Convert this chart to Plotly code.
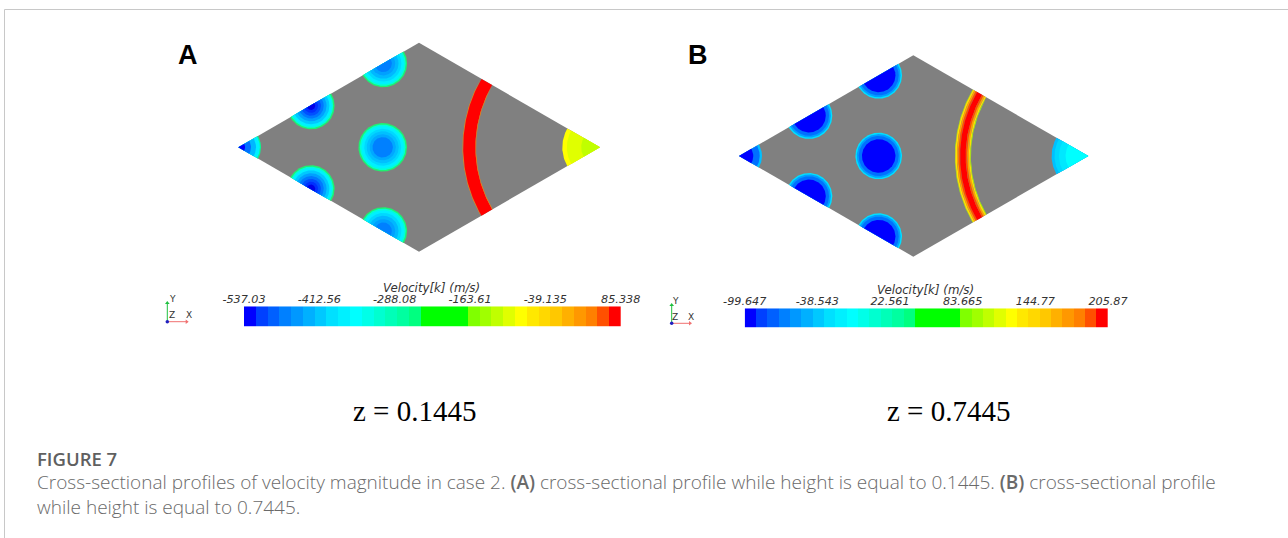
import numpy as np
import plotly.graph_objects as go

W, H = 1288, 538
GRAY = "#808080"

# rhombus corners: left, top, right, bottom
rhomb_a_x = [238.3, 419.0, 600.0, 419.0]
rhomb_a_y = [147.3, 42.7, 147.3, 251.7]
rhomb_b_x = [739.0, 913.3, 1088.3, 913.3]
rhomb_b_y = [156.0, 55.3, 156.0, 256.7]

GREEN_EDGE = "#20f070"
# (radius fraction, colour) from outside to inside
a_centre_bands = [(1.0, GREEN_EDGE), (0.94, "#00ffd8"), (0.87, "#00f0ff"), (0.76, "#00d8ff"),
                  (0.66, "#00c0ff"), (0.54, "#00a8ff"), (0.42, "#0080ff")]
a_mid_bands = [(1.0, GREEN_EDGE), (0.94, "#00ffd8"), (0.88, "#00f0ff"), (0.78, "#00c8ff"),
               (0.66, "#00a0ff"), (0.54, "#0078ff"), (0.42, "#0050ff"), (0.30, "#0030ff"), (0.18, "#0000e8")]
a_top_bands = [(1.0, GREEN_EDGE), (0.94, "#00ffd8"), (0.87, "#00f0ff"), (0.76, "#00d8ff"),
               (0.64, "#00b8ff"), (0.50, "#00a0ff"), (0.36, "#0080ff")]
a_left_bands = [(1.0, "#00ff90"), (0.95, "#00f0ff"), (0.78, "#00b8ff"), (0.56, "#0070ff"), (0.30, "#0000ff")]
a_right_bands = [(1.0, "#ffff00"), (0.88, "#e0ff00"), (0.50, "#c0ff00")]
a_ring_radii = [137.5, 136.8, 124.6, 124.0]
a_ring_colors = ["#ff8000", "#ff0000", "#ff8000"]

b_circle_bands = [(1.0, "#00e0ff"), (0.94, "#00a0ff"), (0.86, "#0070ff"), (0.72, "#0000ff")]
b_left_bands = [(1.0, "#00c0ff"), (0.90, "#0070ff"), (0.62, "#0000ff")]
b_right_bands = [(1.0, "#00c0ff"), (0.92, "#00d8ff"), (0.80, "#00e8ff"), (0.62, "#00ffff")]
b_ring_radii = [133.5, 133.0, 131.4, 129.8, 128.2, 122.6, 121.0, 119.4, 118.0, 117.4]
b_ring_colors = ["#a0ff00", "#ffe000", "#ffa000", "#ff5000", "#ff0000", "#ff5000", "#ffa000",
                 "#ffe000", "#a0ff00"]

# circles: centre x, centre y, radius, bands
a_circles = [
    (382.7, 147.3, 24.3, a_centre_bands),
    (311.0, 105.8, 23.6, a_mid_bands),
    (311.0, 188.8, 23.6, a_mid_bands),
    (383.3, 63.5, 23.8, a_top_bands),
    (383.3, 231.0, 23.8, a_top_bands),
    (238.3, 147.3, 22.7, a_left_bands),
]
b_circles = [
    (878.7, 156.0, 23.3, b_circle_bands),
    (809.0, 115.7, 23.3, b_circle_bands),
    (809.0, 196.3, 23.3, b_circle_bands),
    (878.7, 75.4, 23.3, b_circle_bands),
    (878.7, 236.6, 23.3, b_circle_bands),
    (739.0, 156.0, 23.0, b_left_bands),
]

# colour bar cells
bar_colors = ["#0000ff", "#0040ff", "#0060ff", "#0080ff", "#0098ff", "#00b0ff", "#00c8ff", "#00e0ff",
              "#00f0ff", "#00ffff", "#00ffe8", "#00ffd0", "#00ffb8", "#00ffa0", "#00ff80",
              "#00ff00", "#00ff00", "#00ff00", "#00ff00", "#80ff00", "#a0ff00", "#c0ff00", "#e0ff00",
              "#ffff00", "#ffe800", "#ffd800", "#ffc800", "#ffb000", "#ff9800", "#ff8000", "#ff5000", "#ff0000"]
ticks_a = [-537.03, -412.56, -288.08, -163.61, -39.135, 85.338]
ticks_b = [-99.647, -38.543, 22.561, 83.665, 144.77, 205.87]
tick_text_a = ["-537.03", "-412.56", "-288.08", "-163.61", "-39.135", "85.338"]
tick_text_b = ["-99.647", "-38.543", "22.561", "83.665", "144.77", "205.87"]
bar_title = "Velocity[k] (m/s)"

caption_head = "FIGURE 7"
SEMI = '<span style="font-weight:600">%s</span>'
caption_1 = ("Cross-sectional profiles of velocity magnitude in case 2. " + SEMI % "(A)" + " cross-sectional profile "
             "while height is equal to 0.1445. " + SEMI % "(B)" + " cross-sectional profile")
caption_2 = "while height is equal to 0.7445."
z_a, z_b = "z = 0.1445", "z = 0.7445"


def clip_convex(px, py, cx, cy):
    """Sutherland-Hodgman clip of polygon (px,py) to a convex polygon."""
    mx, my = np.mean(cx), np.mean(cy)
    pts = list(zip(px, py))
    n = len(cx)
    for i in range(n):
        ax, ay, bx, by = cx[i], cy[i], cx[(i + 1) % n], cy[(i + 1) % n]
        side = lambda p: (bx - ax) * (p[1] - ay) - (by - ay) * (p[0] - ax)
        sign = 1 if side((mx, my)) > 0 else -1
        out = []
        for j in range(len(pts)):
            p, q = pts[j], pts[(j + 1) % len(pts)]
            sp, sq = sign * side(p), sign * side(q)
            if sp >= 0:
                out.append(p)
            if sp * sq < 0:
                t = sp / (sp - sq)
                out.append((p[0] + t * (q[0] - p[0]), p[1] + t * (q[1] - p[1])))
        pts = out
        if not pts:
            return [], []
    return [p[0] for p in pts], [p[1] for p in pts]


fig = go.Figure()


def poly(x, y, color):
    fig.add_trace(go.Scatter(x=list(x) + list(x[:1]), y=list(y) + list(y[:1]), mode="lines",
                             fill="toself", fillcolor=color, line=dict(width=0),
                             hoverinfo="skip", showlegend=False))


def disc(cx, cy, r, color, rx, ry):
    t = np.linspace(0, 2 * np.pi, 240, endpoint=False)
    x, y = clip_convex(cx + r * np.cos(t), cy + r * np.sin(t), rx, ry)
    if x:
        poly(x, y, color)


def ring(rx, ry, radii, colors):
    """Arc bands centred on the right corner, limited to the corner's two edges."""
    half = np.arctan2(ry[3] - ry[2], rx[2] - rx[3])
    t = np.linspace(-half, half, 120)
    for i, c in enumerate(colors):
        ro, ri = radii[i], radii[i + 1]
        x = np.concatenate([rx[2] - ro * np.cos(t), (rx[2] - ri * np.cos(t))[::-1]])
        y = np.concatenate([ry[2] + ro * np.sin(t), (ry[2] + ri * np.sin(t))[::-1]])
        poly(x, y, c)


def panel(rx, ry, circles, ring_r, ring_c, right_bands, right_r):
    poly(rx, ry, GRAY)
    ring(rx, ry, ring_r, ring_c)
    for cx, cy, r, bands in circles:
        for f, c in bands:
            disc(cx, cy, r * f, c, rx, ry)
    for f, c in right_bands:
        disc(rx[2], ry[2], right_r * f, c, rx, ry)


panel(rhomb_a_x, rhomb_a_y, a_circles, a_ring_radii, a_ring_colors, a_right_bands, 37.7)
panel(rhomb_b_x, rhomb_b_y, b_circles, b_ring_radii, b_ring_colors, b_right_bands, 36.7)


# colour bars on their own axes
def colorbar(ticks, xa, ya):
    lo, hi = ticks[0], ticks[-1]
    n = len(bar_colors)
    edges = np.linspace(lo, hi, n + 1)
    cs = []
    for i, c in enumerate(bar_colors):
        cs += [[i / n, c], [(i + 1) / n, c]]
    fig.add_trace(go.Heatmap(x=edges, y=[0, 1], z=[list(range(n))], zmin=-0.5, zmax=n - 0.5,
                             colorscale=cs, showscale=False, hoverinfo="skip", xaxis=xa, yaxis=ya))


colorbar(ticks_a, "x2", "y2")
colorbar(ticks_b, "x3", "y3")


def ybar(t, b):
    return dict(domain=[1 - b / H, 1 - t / H], range=[0, 1], visible=False)


def xbar(l, r, ticks, labels, anchor):
    return dict(domain=[l / W, r / W], range=[ticks[0], ticks[-1]], side="top", anchor=anchor,
                tickvals=ticks, ticktext=[f"<i>{s}</i>" for s in labels], ticks="", ticklen=0,
                showgrid=False, zeroline=False, showline=False,
                tickfont=dict(family="DejaVu Sans", size=11.2, color="#333333"))


# triads: origin-to-tip segments
def triad(ox, oy, ytip, xtip):
    fig.add_trace(go.Scatter(x=[ox, ox], y=[oy, ytip], mode="lines", line=dict(color="#20c040", width=1),
                             hoverinfo="skip", showlegend=False))
    fig.add_trace(go.Scatter(x=[ox, xtip], y=[oy, oy], mode="lines", line=dict(color="#f07070", width=1),
                             hoverinfo="skip", showlegend=False))
    fig.add_trace(go.Scatter(x=[ox], y=[ytip], mode="markers",
                             marker=dict(symbol="triangle-up", size=4, color="#20c040"),
                             hoverinfo="skip", showlegend=False))
    fig.add_trace(go.Scatter(x=[xtip], y=[oy], mode="markers",
                             marker=dict(symbol="triangle-right", size=4, color="#f07070"),
                             hoverinfo="skip", showlegend=False))
    fig.add_trace(go.Scatter(x=[ox], y=[oy], mode="markers", marker=dict(size=3.5, color="#2020c0"),
                             hoverinfo="skip", showlegend=False))


triad(167.3, 321.7, 303.0, 186.7)
triad(671.7, 323.3, 305.0, 690.0)

# frame
fig.add_trace(go.Scatter(x=[4.5, 4.5, 1288], y=[538, 9.5, 9.5], mode="lines",
                         line=dict(color="#c8c8c8", width=1), hoverinfo="skip", showlegend=False))


def text(x, y, s, size, family, color="#000000", anchor="center", weight=None):
    f = dict(size=size, family=family, color=color)
    if weight:
        f["weight"] = weight
    fig.add_annotation(x=x, y=y, xref="x", yref="y", text=s, showarrow=False, xanchor=anchor, yanchor="middle",
                       align="left" if anchor == "left" else "center", font=f)


SANS = "Liberation Sans"
SERIF = "Liberation Serif"
DV = "DejaVu Sans"
text(187.5, 55, "<b>A</b>", 27, SANS)
text(698, 55, "<b>B</b>", 27, SANS)
text(414.5, 411, z_a, 29, SERIF)
text(948, 411, z_b, 29, SERIF)
text(431, 287.5, f"<i>{bar_title}</i>", 11.8, DV, "#333333")
text(925, 290, f"<i>{bar_title}</i>", 11.8, DV, "#333333")
for x, y, s in [(172, 298.5, "Y"), (171.5, 314.5, "Z"), (188.5, 314.5, "X"),
                (675, 301, "Y"), (675, 316.7, "Z"), (691, 316.7, "X")]:
    text(x, y, s, 9, DV, "#333333")

CAP = "Open Sans"
CAPC = "#6a6a6a"
text(34.5, 458, caption_head, 18.5, CAP, "#606060", "left", 600)
text(34.5, 494.5, caption_1 + "<br>" + caption_2, 19, CAP, CAPC, "left", 300)

fig.update_layout(
    width=W, height=H, margin=dict(l=0, r=0, t=0, b=0, autoexpand=False),
    paper_bgcolor="white", plot_bgcolor="white", showlegend=False,
    xaxis=dict(domain=[0, 1], range=[0, W], visible=False, fixedrange=True),
    yaxis=dict(domain=[0, 1], range=[H, 0], visible=False, fixedrange=True),
    xaxis2=xbar(244, 620.7, ticks_a, tick_text_a, "y2"),
    yaxis2=ybar(306.3, 326.7),
    xaxis3=xbar(744.7, 1108, ticks_b, tick_text_b, "y3"),
    yaxis3=ybar(308.3, 327.7),
)
fig.write_html("out.html", config=dict(displayModeBar=False),
               post_script="document.body.style.margin='0';document.documentElement.style.overflow='hidden';")
